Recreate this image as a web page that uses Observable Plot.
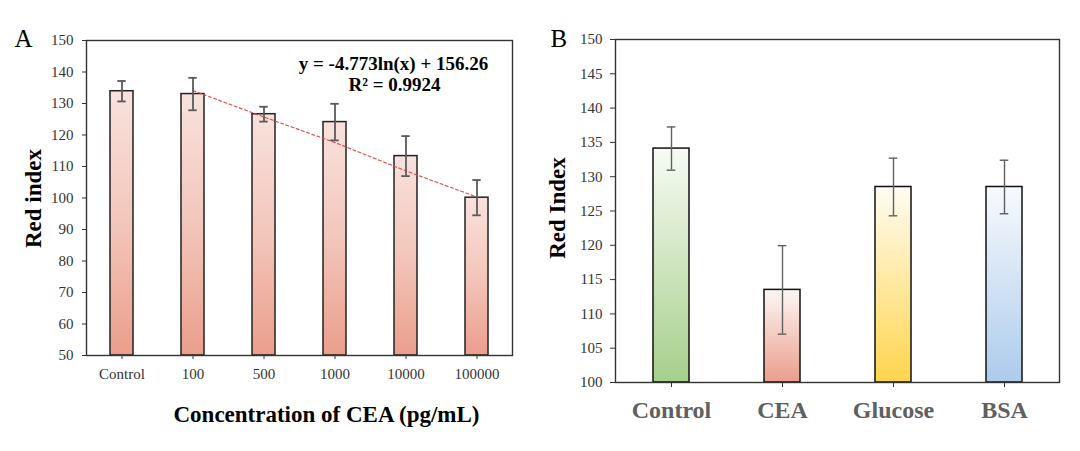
<!DOCTYPE html>
<html>
<head>
<meta charset="utf-8">
<script src="https://cdn.jsdelivr.net/npm/d3@7"></script>
<script src="https://cdn.jsdelivr.net/npm/@observablehq/plot@0.6"></script>
<style>
  html, body { margin: 0; padding: 0; background: #fff; }
  #wrap { position: relative; width: 1080px; height: 451px; overflow: hidden; background: #fff; }
  #wrap > div { position: absolute; top: 0; }
</style>
</head>
<body>
<div id="wrap"><div id="pa" style="left:0px"></div><div id="pb" style="left:540px"></div></div>
<script>
// ---------- Panel A data ----------
const catsA = ["Control", "100", "500", "1000", "10000", "100000"];
const meansA = [133.9, 133.0, 126.6, 124.1, 113.3, 100.1];
const errsA = [3.25, 5.15, 2.35, 5.8, 6.35, 5.6];
const yTicksA = [50, 60, 70, 80, 90, 100, 110, 120, 130, 140, 150];
const trendCats = ["100", "500", "1000", "10000", "100000"];
const trendVals = [134.1, 125.7, 117.6, 108.6, 100.3];
const eqText = "y = -4.773ln(x) + 156.26";
const r2Text = "R² = 0.9924";

// ---------- Panel B data ----------
const catsB = ["Control", "CEA", "Glucose", "BSA"];
const meansB = [134.1, 113.5, 128.5, 128.5];
const errsB = [3.15, 6.45, 4.2, 3.9];
const yTicksB = [100, 105, 110, 115, 120, 125, 130, 135, 140, 145, 150];

const dataA = catsA.map((c, i) => ({cat: c, v: meansA[i], e: errsA[i]}));
const dataB = catsB.map((c, i) => ({cat: c, v: meansB[i], e: errsB[i]}));
const trend = trendCats.map((c, i) => ({cat: c, v: trendVals[i]}));

const font = "'Liberation Serif', 'Times New Roman', serif";

function addGradients(svg, defsList) {
  const defs = d3.select(svg).insert("defs", ":first-child");
  for (const g of defsList) {
    const lg = defs.append("linearGradient").attr("id", g.id)
      .attr("x1", 0).attr("y1", 0).attr("x2", 0).attr("y2", 1);
    g.stops.forEach(([o, c]) => lg.append("stop").attr("offset", o).attr("stop-color", c));
  }
}

// ---------- Panel A ----------
const plotA = Plot.plot({
  width: 540, height: 451,
  marginLeft: 86, marginRight: 28, marginTop: 40, marginBottom: 96,
  style: {fontFamily: font, fontSize: "15px", color: "#333", background: "#fff"},
  x: {domain: catsA, paddingInner: 0.68, paddingOuter: 0.34, label: null, tickSize: 4, tickPadding: 9},
  y: {domain: [yTicksA[0], yTicksA[yTicksA.length - 1]], ticks: yTicksA, label: null, tickSize: 4, tickPadding: 9},
  marks: [
    Plot.barY(dataA, {x: "cat", y1: yTicksA[0], y2: "v", fill: "url(#gA)", stroke: "#222", strokeWidth: 1.5}),
    Plot.line(trend, {x: "cat", y: "v", stroke: "#e04848", strokeWidth: 1.1, strokeDasharray: "3,2.5"}),
    Plot.ruleX(dataA, {x: "cat", y1: d => d.v - d.e, y2: d => d.v + d.e, stroke: "#5a5a5a", strokeWidth: 1.8}),
    Plot.tickY(dataA, {x: "cat", y: d => d.v + d.e, stroke: "#5a5a5a", strokeWidth: 1.8, insetLeft: 7.3, insetRight: 7.3}),
    Plot.tickY(dataA, {x: "cat", y: d => d.v - d.e, stroke: "#5a5a5a", strokeWidth: 1.8, insetLeft: 7.3, insetRight: 7.3}),
    Plot.frame({stroke: "#333", strokeWidth: 1.4}),
    Plot.text([eqText], {frameAnchor: "top", dx: 94, dy: 29, lineAnchor: "bottom", fontSize: 19, fontWeight: "bold", fill: "#000"}),
    Plot.text([r2Text], {frameAnchor: "top", dx: 95, dy: 50.7, lineAnchor: "bottom", fontSize: 19, fontWeight: "bold", fill: "#000"}),
    Plot.text(["Red index"], {frameAnchor: "left", dx: -53, dy: 0.5, rotate: -90, textAnchor: "middle", lineAnchor: "middle", fontSize: 23, fontWeight: "bold", fill: "#000"}),
    Plot.text(["Concentration of CEA (pg/mL)"], {frameAnchor: "bottom", dx: 27, dy: 66, textAnchor: "middle", lineAnchor: "bottom", fontSize: 23, fontWeight: "bold", fill: "#000"}),
    Plot.text(["A"], {frameAnchor: "top-left", dx: -72, dy: 6.7, textAnchor: "start", lineAnchor: "bottom", fontSize: 25, fill: "#000"})
  ]
});
addGradients(plotA, [{id: "gA", stops: [[0, "#f8e2dd"], [0.5, "#f3c6bb"], [1, "#eb9e8b"]]}]);
document.getElementById("pa").appendChild(plotA);

// ---------- Panel B ----------
const plotB = Plot.plot({
  width: 540, height: 451,
  marginLeft: 75, marginRight: 21, marginTop: 39, marginBottom: 69,
  style: {fontFamily: font, fontSize: "15px", color: "#333", background: "#fff"},
  x: {domain: catsB, paddingInner: 0.68, paddingOuter: 0.34, label: null, tickSize: 5, tickFormat: () => ""},
  y: {domain: [yTicksB[0], yTicksB[yTicksB.length - 1]], ticks: yTicksB, label: null, tickSize: 5, tickPadding: 8},
  color: {type: "ordinal", domain: catsB, range: ["url(#gB0)", "url(#gB1)", "url(#gB2)", "url(#gB3)"]},
  marks: [
    Plot.barY(dataB, {x: "cat", y1: yTicksB[0], y2: "v", fill: "cat", stroke: "#111", strokeWidth: 1.5}),
    Plot.ruleX(dataB, {x: "cat", y1: d => d.v - d.e, y2: d => d.v + d.e, stroke: "#606060", strokeWidth: 1.4}),
    Plot.tickY(dataB, {x: "cat", y: d => d.v + d.e, stroke: "#606060", strokeWidth: 1.4, insetLeft: 13.7, insetRight: 13.7}),
    Plot.tickY(dataB, {x: "cat", y: d => d.v - d.e, stroke: "#606060", strokeWidth: 1.4, insetLeft: 13.7, insetRight: 13.7}),
    Plot.frame({stroke: "#333", strokeWidth: 1.4}),
    Plot.text(catsB, {x: d => d, frameAnchor: "bottom", dy: 35.3, textAnchor: "middle", lineAnchor: "bottom", fontSize: 24, fontWeight: "bold", fill: "#606060"}),
    Plot.text(["Red Index"], {frameAnchor: "left", dx: -57.5, dy: -3, rotate: -90, textAnchor: "middle", lineAnchor: "middle", fontSize: 23, fontWeight: "bold", fill: "#000"}),
    Plot.text(["B"], {frameAnchor: "top-left", dx: -65, dy: 7.7, textAnchor: "start", lineAnchor: "bottom", fontSize: 25, fill: "#000"})
  ]
});
addGradients(plotB, [
  {id: "gB0", stops: [[0, "#f7fbf4"], [1, "#a6cf8b"]]},
  {id: "gB1", stops: [[0, "#fdf7f5"], [1, "#eb9e8b"]]},
  {id: "gB2", stops: [[0, "#fffcf3"], [1, "#ffd54d"]]},
  {id: "gB3", stops: [[0, "#f7fafd"], [1, "#adcbec"]]}
]);
document.getElementById("pb").appendChild(plotB);
</script>
</body>
</html>
